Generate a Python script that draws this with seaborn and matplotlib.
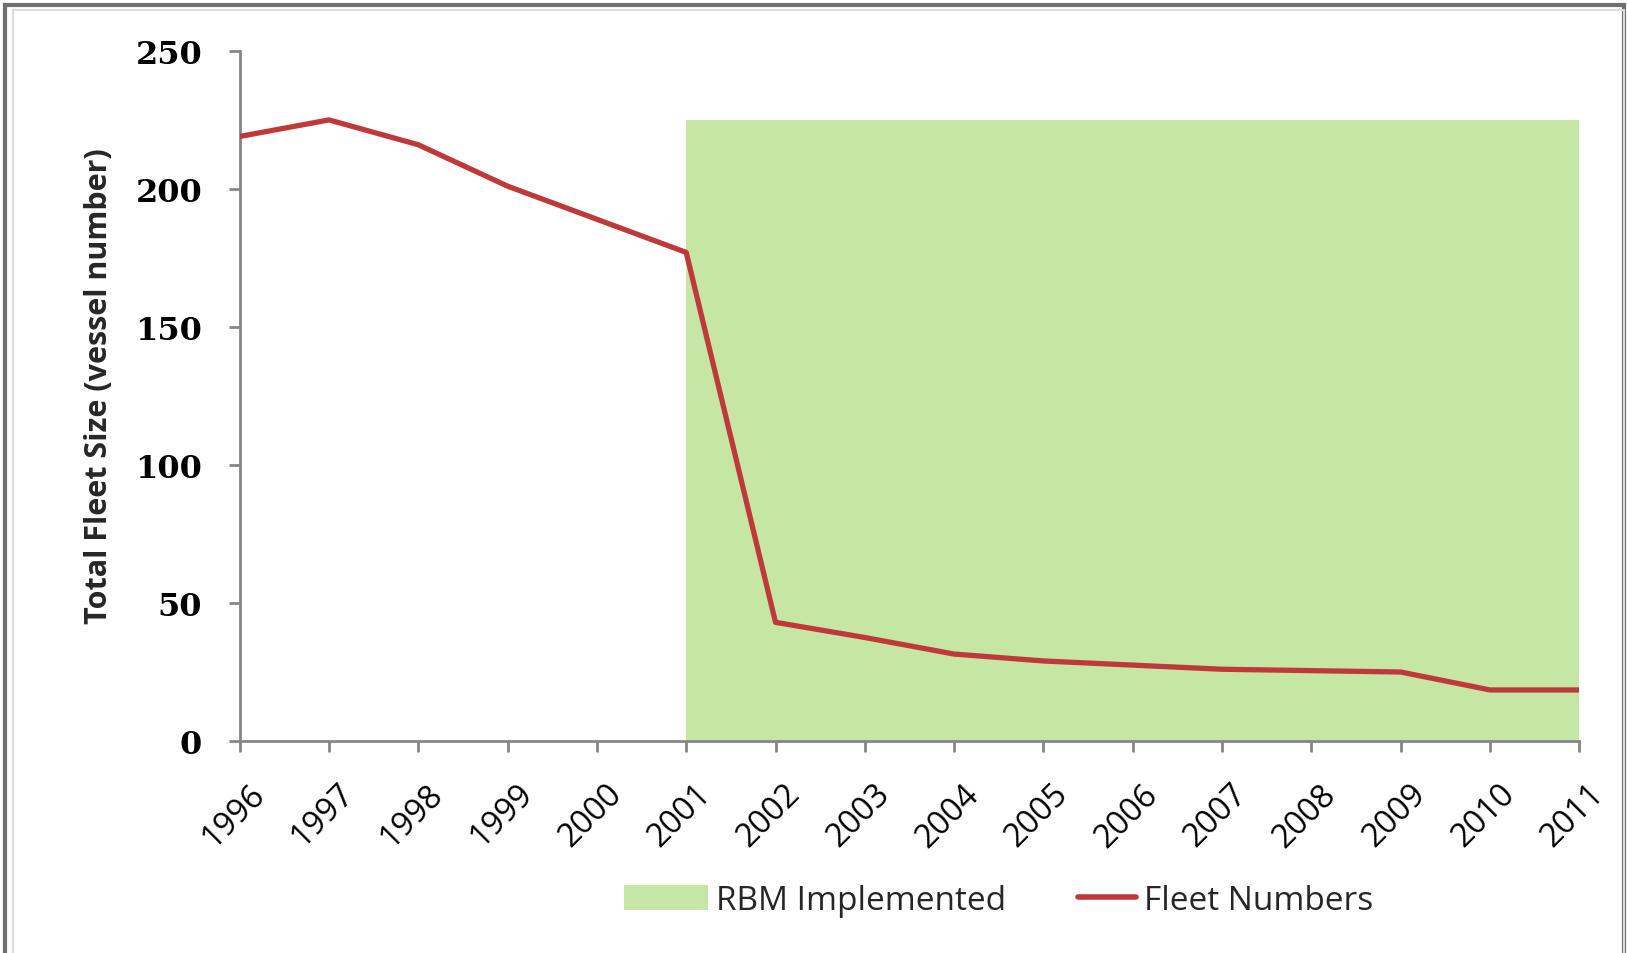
import numpy as np
import pandas as pd
import matplotlib
matplotlib.use("Agg")
import matplotlib.pyplot as plt
import matplotlib.transforms as mtransforms
import seaborn as sns
from matplotlib.patches import Rectangle, Patch
from matplotlib.lines import Line2D
from matplotlib.legend_handler import HandlerLine2D

years = [1996, 1997, 1998, 1999, 2000, 2001, 2002, 2003,
         2004, 2005, 2006, 2007, 2008, 2009, 2010, 2011]
fleet = [219, 225, 216, 201, 189, 177, 43, 37.5,
         31.5, 29, 27.5, 26, 25.5, 25, 18.5, 18.5]
rbm_years = [2001, 2002, 2003, 2004, 2005, 2006, 2007, 2008, 2009, 2010, 2011]
rbm_level = [225] * len(rbm_years)
yticks = [0, 50, 100, 150, 200, 250]

df = pd.DataFrame({"year": years, "fleet": fleet})

sns.set_style("white")
sans = ["Open Sans", "DejaVu Sans"]


class ShortLine(HandlerLine2D):
    # legend line shorter than the patch, pushed against its label
    def create_artists(self, legend, orig_handle, xdescent, ydescent,
                       width, height, fontsize, trans):
        w = width * 0.7
        return super().create_artists(legend, orig_handle, xdescent - (width - w),
                                      ydescent, w, height, fontsize, trans)


fig = plt.figure(figsize=(16.27, 9.54), dpi=100)
ax = fig.add_axes([0.1473, 0.2222, 0.8234, 0.7234])

green = "#c5e6a4"
red = "#c0393a"

ax.fill_between(rbm_years, 0, rbm_level, color=green, lw=0, zorder=1)
sns.lineplot(data=df, x="year", y="fleet", color=red, lw=3.8, ax=ax, zorder=3)

ax.set_xlim(years[0], years[-1])
ax.set_ylim(0, 250)
ax.set_xticks(years)
ax.set_xticklabels([str(y) for y in years], rotation=45, ha="right", va="top",
                   rotation_mode="anchor", fontsize=23.5, family=sans)
ax.set_yticks(yticks)
ax.set_yticklabels([str(t) for t in yticks], fontsize=23,
                   family=["DejaVu Serif"], weight="bold")
ax.set_xlabel("")
ax.set_ylabel("Total Fleet Size (vessel number)", fontsize=22, family=sans,
              weight="bold")
ax.yaxis.set_label_coords(-0.094, 0.515)

for s in ["top", "right"]:
    ax.spines[s].set_visible(False)
for s in ["left", "bottom"]:
    ax.spines[s].set_color("#868686")
    ax.spines[s].set_linewidth(2)
ax.tick_params(axis="both", direction="out", color="#868686", width=2,
               length=8, left=True, bottom=True, labelcolor="black")
ax.tick_params(axis="y", pad=19)
ax.tick_params(axis="x", pad=18)

# shift x labels a little to the right of their ticks
shift = mtransforms.ScaledTranslation(6 / 72, 0, fig.dpi_scale_trans)
for lab in ax.get_xticklabels():
    lab.set_transform(lab.get_transform() + shift)

line_handle = Line2D([0], [0], color=red, lw=4)
handles = [Patch(facecolor=green, edgecolor="none"), line_handle]
fig.legend(handles, ["RBM Implemented", "Fleet Numbers"], loc="center",
           bbox_to_anchor=(0.614, 0.055), ncol=2, frameon=False,
           prop={"family": sans, "size": 24}, handlelength=2.5,
           handleheight=0.8, handletextpad=0.25, columnspacing=1.4,
           handler_map={line_handle: ShortLine()})

# outer frame
fig.patches.append(Rectangle((0.003, -0.01), 0.995, 1.004, transform=fig.transFigure,
                             fill=False, edgecolor="#6e6e6e", lw=3))
fig.patches.append(Rectangle((0.008, -0.01), 0.99, 0.998, transform=fig.transFigure,
                             fill=False, edgecolor="#dcdcdc", lw=1.5))

fig.savefig("out.png", dpi=100)
